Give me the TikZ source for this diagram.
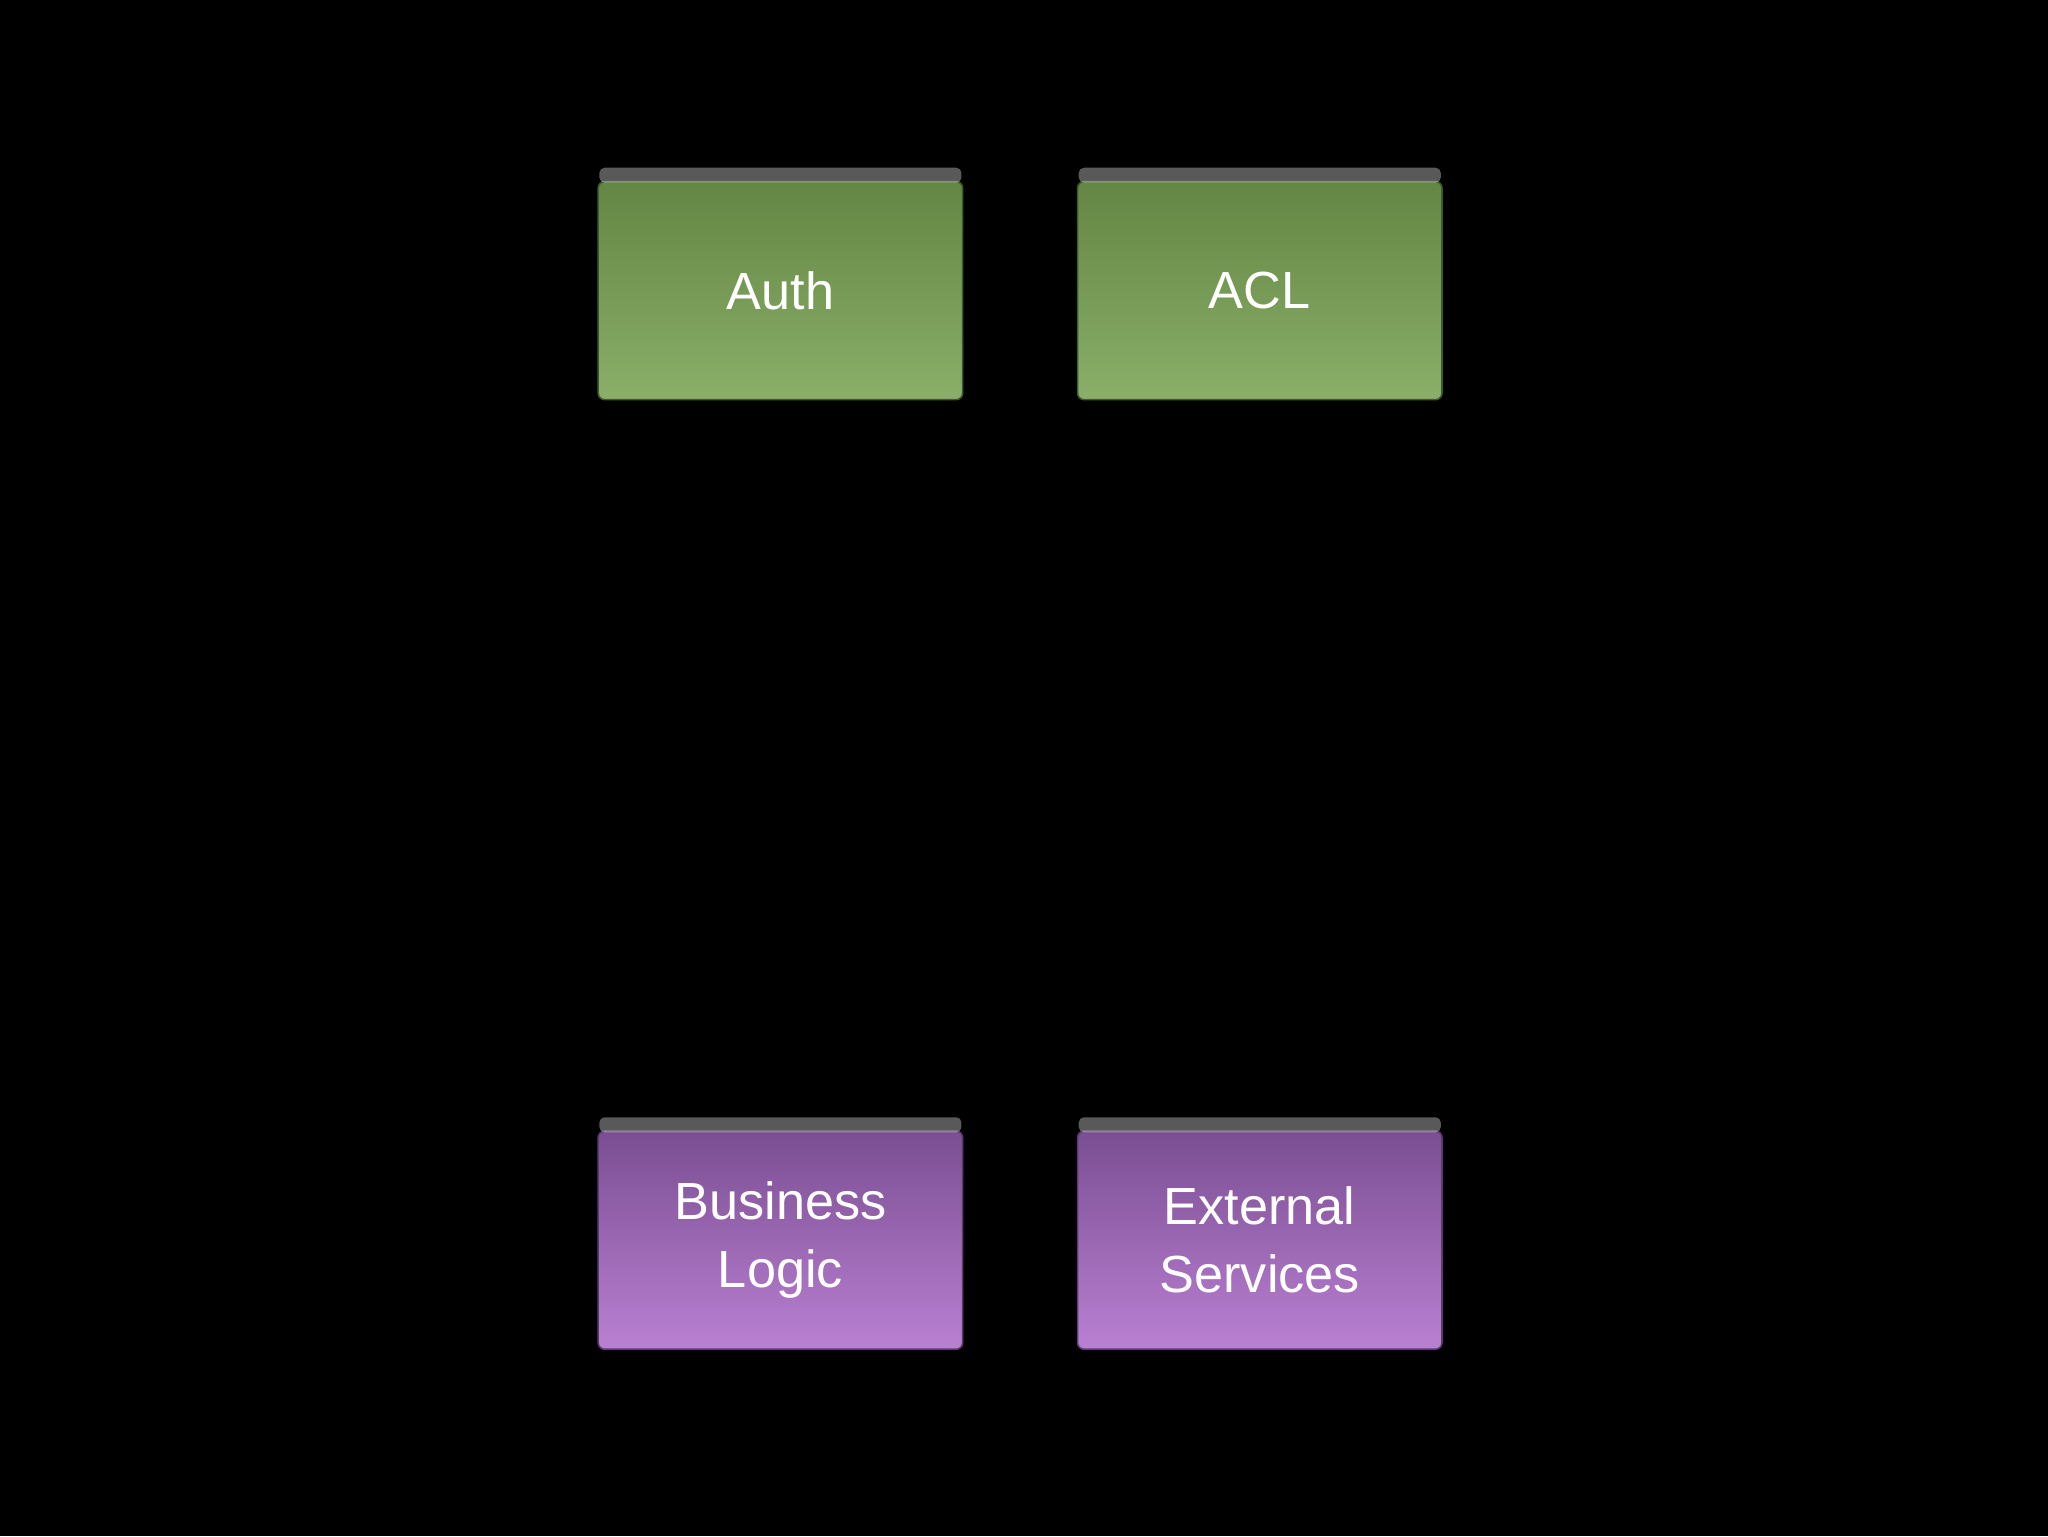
\documentclass[tikz,border=0pt]{standalone}
\usepackage{fontspec}
\setmainfont{Liberation Sans}
\definecolor{gtop}{HTML}{648644}
\definecolor{gbot}{HTML}{89AF69}
\definecolor{gedge}{HTML}{3E5A28}
\definecolor{ptop}{HTML}{7A4E92}
\definecolor{pbot}{HTML}{BA80D2}
\definecolor{pedge}{HTML}{5C3A70}
\begin{document}
\begin{tikzpicture}[x=1pt,y=-1pt,
  box/.style={rounded corners=5pt, minimum width=279pt, minimum height=167pt, line width=1.2pt, align=center, text=white, font=\fontsize{40}{52}\selectfont},
  gbox/.style={box, draw=gedge, top color=gtop, bottom color=gbot},
  pbox/.style={box, draw=pedge, top color=ptop, bottom color=pbot}]
\fill[black] (0,0) rectangle (1568,1176);
\useasboundingbox (0,0) rectangle (1568,1176);
\node[gbox] (auth) at (597.5,222.5) {};
\node[gbox] (acl) at (964.5,222.5) {};
\node[pbox] (bl) at (597.5,949.5) {};
\node[pbox] (es) at (964.5,949.5) {};
\foreach \n/\c in {auth/gtop,acl/gtop,bl/ptop,es/ptop}{
  \fill[white,opacity=0.35,rounded corners=4pt] ([xshift=1.5pt,yshift=-1.5pt]\n.north west) rectangle ([xshift=-1.5pt,yshift=10pt]\n.north east);
}
\node[text=white, font=\fontsize{40}{52}\selectfont] (t1) at (auth) {Auth};
\node[text=white, font=\fontsize{40}{52}\selectfont] (t2) at (acl) {ACL};
\node[text=white, font=\fontsize{40}{52}\selectfont, align=center] (t3) at (bl) {Business\\Logic};
\node[text=white, font=\fontsize{40}{52}\selectfont, align=center] (t4) at (es) {External\\Services};
\end{tikzpicture}
\end{document}
